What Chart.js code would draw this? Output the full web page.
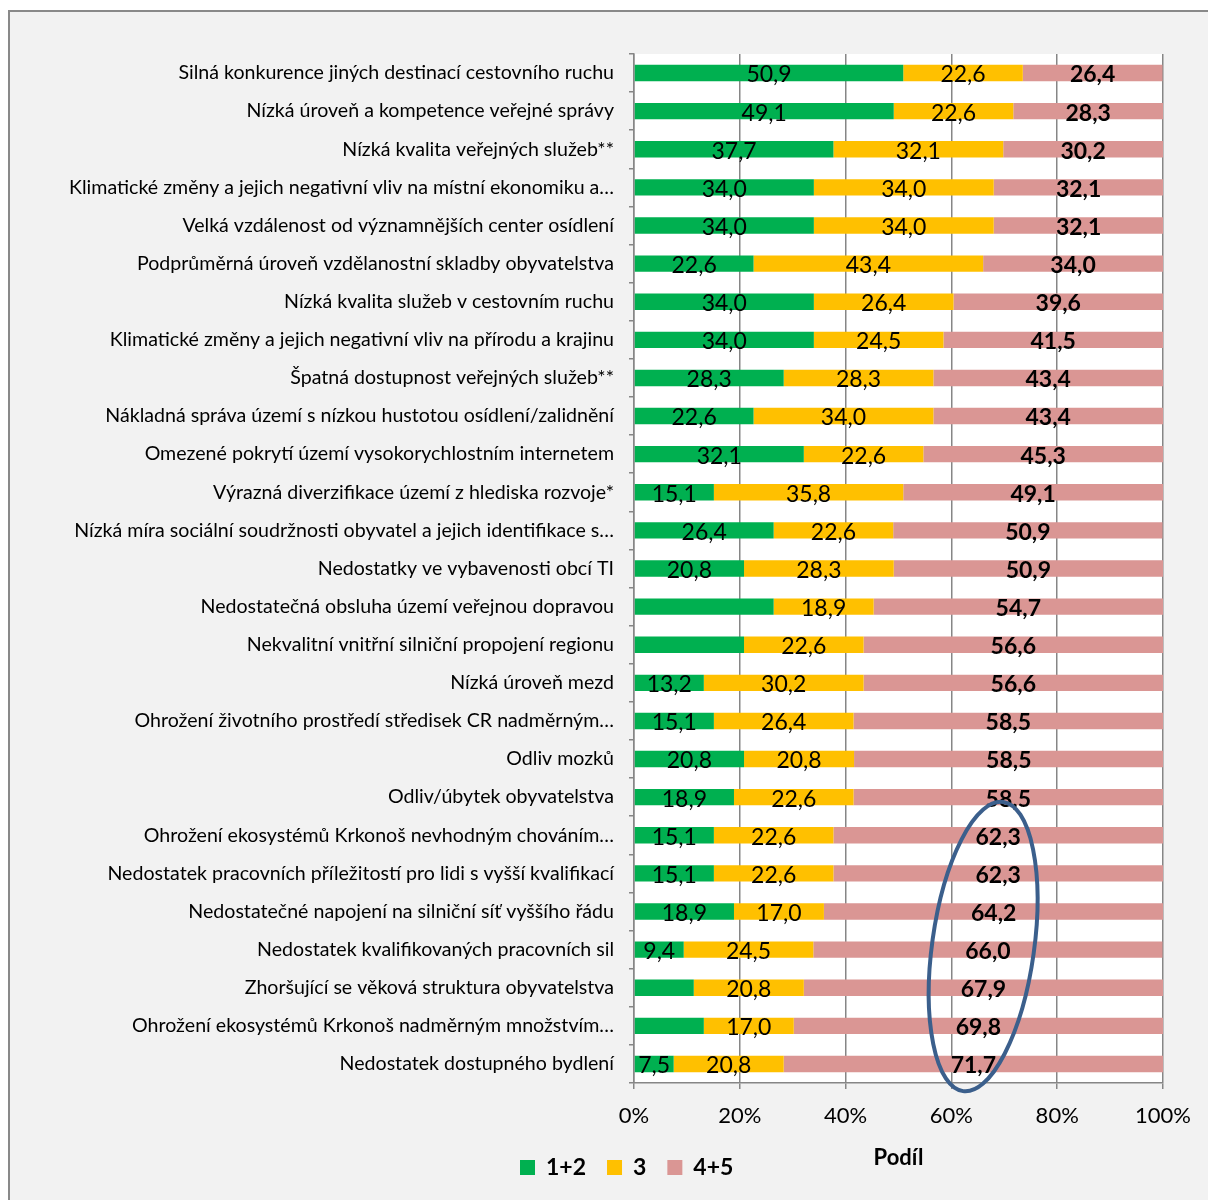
<!DOCTYPE html>
<html lang="cs">
<head>
<meta charset="utf-8">
<script src="https://cdn.jsdelivr.net/npm/chart.js@4/dist/chart.umd.min.js"></script>
<style>
  html, body { margin: 0; padding: 0; background: #fff; }
  #graf { display: block; }
</style>
</head>
<body>
<canvas id="graf" width="1208" height="1200"></canvas>
<script>
// kategorie (shora dolů)
const kategorie = [
    'Silná konkurence jiných destinací cestovního ruchu',
    'Nízká úroveň a kompetence veřejné správy',
    'Nízká kvalita veřejných služeb**',
    'Klimatické změny a jejich negativní vliv na místní ekonomiku a…',
    'Velká vzdálenost od významnějších center osídlení',
    'Podprůměrná úroveň vzdělanostní skladby obyvatelstva',
    'Nízká kvalita služeb v cestovním ruchu',
    'Klimatické změny a jejich negativní vliv na přírodu a krajinu',
    'Špatná dostupnost veřejných služeb**',
    'Nákladná správa území s nízkou hustotou osídlení/zalidnění',
    'Omezené pokrytí území vysokorychlostním internetem',
    'Výrazná diverzifikace území z hlediska rozvoje*',
    'Nízká míra sociální soudržnosti obyvatel a jejich identifikace s…',
    'Nedostatky ve vybavenosti obcí TI',
    'Nedostatečná obsluha území veřejnou dopravou',
    'Nekvalitní vnitřní silniční propojení regionu',
    'Nízká úroveň mezd',
    'Ohrožení životního prostředí středisek CR nadměrným…',
    'Odliv mozků',
    'Odliv/úbytek obyvatelstva',
    'Ohrožení ekosystémů Krkonoš nevhodným chováním…',
    'Nedostatek pracovních příležitostí pro lidi s vyšší kvalifikací',
    'Nedostatečné napojení na silniční síť vyššího řádu',
    'Nedostatek kvalifikovaných pracovních sil',
    'Zhoršující se věková struktura obyvatelstva',
    'Ohrožení ekosystémů Krkonoš nadměrným množstvím…',
    'Nedostatek dostupného bydlení'
];

const hodnoty12 = [50.9, 49.1, 37.7, 34.0, 34.0, 22.6, 34.0, 34.0, 28.3, 22.6, 32.1, 15.1, 26.4, 20.8,
    26.4, 20.8, 13.2, 15.1, 20.8, 18.9, 15.1, 15.1, 18.9, 9.4, 11.3, 13.2, 7.5];
const hodnoty3 = [22.6, 22.6, 32.1, 34.0, 34.0, 43.4, 26.4, 24.5, 28.3, 34.0, 22.6, 35.8, 22.6, 28.3,
    18.9, 22.6, 30.2, 26.4, 20.8, 22.6, 22.6, 22.6, 17.0, 24.5, 20.8, 17.0, 20.8];
const hodnoty45 = [26.4, 28.3, 30.2, 32.1, 32.1, 34.0, 39.6, 41.5, 43.4, 43.4, 45.3, 49.1, 50.9, 50.9,
    54.7, 56.6, 56.6, 58.5, 58.5, 58.5, 62.3, 62.3, 64.2, 66.0, 67.9, 69.8, 71.7];

// u těchto řádků chybí popisek zelené části
const skrytePopisky12 = [14, 15, 24, 25];

const tickyX = [0, 20, 40, 60, 80, 100];

const pismo = "Lato, 'Open Sans', sans-serif";

// pozadí + rámeček + bílá plocha grafu
const pozadi = {
    id: 'pozadi',
    beforeDraw(chart) {
        const ctx = chart.ctx;
        const a = chart.chartArea;
        ctx.save();
        ctx.fillStyle = '#ffffff';
        ctx.fillRect(0, 0, chart.width, chart.height);
        ctx.fillStyle = '#f2f2f2';
        ctx.fillRect(9, 11, chart.width, chart.height);
        ctx.strokeStyle = '#898989';
        ctx.lineWidth = 2;
        ctx.beginPath();
        ctx.moveTo(9, chart.height);
        ctx.lineTo(9, 11);
        ctx.lineTo(chart.width, 11);
        ctx.stroke();
        ctx.fillStyle = '#ffffff';
        ctx.fillRect(a.left, a.top, a.right - a.left, a.bottom - a.top);
        ctx.restore();
    }
};

// popisky hodnot uvnitř pruhů
const popisky = {
    id: 'popisky',
    afterDatasetsDraw(chart) {
        const ctx = chart.ctx;
        ctx.save();
        ctx.textAlign = 'center';
        ctx.textBaseline = 'middle';
        ctx.fillStyle = '#000';
        chart.data.datasets.forEach((ds, i) => {
            const meta = chart.getDatasetMeta(i);
            ctx.font = (i === 2 ? 'bold ' : '') + '23px ' + pismo;
            meta.data.forEach((bar, j) => {
                if (i === 0 && skrytePopisky12.includes(j)) return;
                const txt = ds.data[j].toFixed(1).replace('.', ',');
                ctx.fillText(txt, (bar.x + bar.base) / 2, bar.y + 2);
            });
        });
        ctx.restore();
    }
};

// modrá elipsa kolem nejvyšších hodnot + vlastní legenda
const elipsa = {
    id: 'elipsa',
    afterDraw(chart) {
        const ctx = chart.ctx;
        const x = chart.scales.x;
        const y = chart.scales.y;
        const krok = y.getPixelForValue(1) - y.getPixelForValue(0);
        const cx = x.getPixelForValue(66);
        const cy = y.getPixelForValue(22.92);
        ctx.save();
        ctx.strokeStyle = '#3b5f8c';
        ctx.lineWidth = 4;
        ctx.beginPath();
        ctx.ellipse(cx, cy, 51, krok * 3.83, 0.138, 0, Math.PI * 2);
        ctx.stroke();

        // legenda
        let lx = 520;
        const ly = 1167;
        ctx.font = 'bold 23px ' + pismo;
        ctx.textBaseline = 'middle';
        ctx.textAlign = 'left';
        chart.data.datasets.forEach(ds => {
            ctx.fillStyle = ds.backgroundColor;
            ctx.fillRect(lx, ly - 7, 15, 15);
            ctx.fillStyle = '#000';
            ctx.fillText(ds.label, lx + 26, ly + 1);
            lx += 26 + ctx.measureText(ds.label).width + 21;
        });
        ctx.restore();
    }
};

new Chart(document.getElementById('graf'), {
    type: 'bar',
    data: {
        labels: kategorie,
        datasets: [
            { label: '1+2', data: hodnoty12, backgroundColor: '#00b050' },
            { label: '3', data: hodnoty3, backgroundColor: '#ffc000' },
            { label: '4+5', data: hodnoty45, backgroundColor: '#da9694' }
        ]
    },
    options: {
        indexAxis: 'y',
        responsive: false,
        animation: false,
        layout: { padding: { top: 54, right: 45, left: 0, bottom: 0 } },
        datasets: { bar: { barPercentage: 0.43, categoryPercentage: 1, borderWidth: 0 } },
        plugins: {
            legend: { display: false },
            tooltip: { enabled: false }
        },
        scales: {
            x: {
                stacked: true,
                min: 0,
                max: 100,
                afterBuildTicks: s => { s.ticks = tickyX.map(v => ({ value: v })); },
                afterFit: s => { s.height = 117; },
                grid: { color: '#868686', lineWidth: 1.5, tickLength: 6 },
                border: { color: '#868686', width: 1.5 },
                ticks: {
                    color: '#000',
                    padding: 14,
                    font: { family: pismo, size: 22 },
                    callback: v => v + '%'
                },
                title: {
                    display: true,
                    text: 'Podíl',
                    color: '#000',
                    font: { family: pismo, size: 22, weight: 'bold' },
                    padding: { top: 0, bottom: 29 }
                }
            },
            y: {
                stacked: true,
                afterFit: s => { s.width = 634; },
                grid: { drawOnChartArea: false, offset: true, color: '#868686', tickLength: 5, lineWidth: 1.5 },
                border: { color: '#868686', width: 1.5 },
                ticks: {
                    color: '#000',
                    padding: 15,
                    autoSkip: false,
                    font: { family: pismo, size: 19.6 }
                }
            }
        }
    },
    plugins: [pozadi, popisky, elipsa]
});
</script>
</body>
</html>
